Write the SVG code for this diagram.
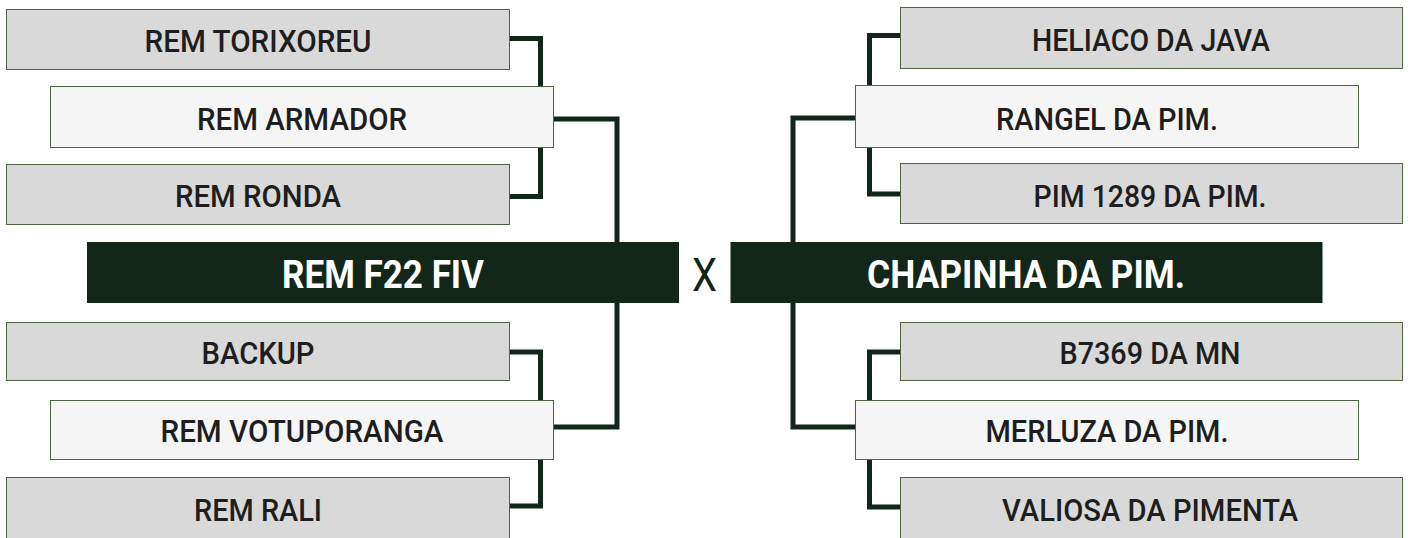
<svg xmlns="http://www.w3.org/2000/svg" width="1408" height="538" viewBox="0 0 1408 538">
<style>
.bg{fill:#ffffff}
.g{fill:#d9d9d9;stroke:#4e6544;stroke-width:1}
.l{fill:#f5f5f5;stroke:#4e6544;stroke-width:1}
.m{fill:#12261a}
.t{font-family:Roboto,"Liberation Sans",sans-serif;font-weight:500;font-size:32px;fill:#1e1e1e;text-anchor:middle}
.mt{font-family:Roboto,"Liberation Sans",sans-serif;font-weight:700;font-size:38px;fill:#ffffff;text-anchor:middle}
.x{font-family:Roboto,"Liberation Sans",sans-serif;font-weight:400;font-size:46px;fill:#12261a;text-anchor:middle}
.c{fill:none;stroke:#12261a;stroke-width:5;stroke-linejoin:miter}
</style>
<rect class="bg" x="0" y="0" width="1408" height="538"/>
<g id="connectors">
<path class="c" d="M509,38.5 H540.5 V196.5 H509"/>
<path class="c" d="M553,119 H617 V245"/>
<path class="c" d="M617,300 V427 H553"/>
<path class="c" d="M509,352 H540.5 V506 H509"/>
<path class="c" d="M901,35.5 H869.5 V194 H901"/>
<path class="c" d="M856,118 H793 V245"/>
<path class="c" d="M793,300 V427 H856"/>
<path class="c" d="M901,352 H869.5 V507 H901"/>
</g>
<g id="n-torixoreu"><rect class="g" x="6.5" y="9.5" width="503" height="60"/><text class="t" x="258" y="52" textLength="227" lengthAdjust="spacingAndGlyphs">REM TORIXOREU</text></g>
<g id="n-armador"><rect class="l" x="50.5" y="86.5" width="503" height="61"/><text class="t" x="302" y="130" textLength="210" lengthAdjust="spacingAndGlyphs">REM ARMADOR</text></g>
<g id="n-ronda"><rect class="g" x="6.5" y="164.5" width="503" height="60"/><text class="t" x="258" y="207" textLength="166" lengthAdjust="spacingAndGlyphs">REM RONDA</text></g>
<g id="n-f22"><rect class="m" x="87" y="242" width="592" height="61"/><text class="mt" x="383" y="288" textLength="202" lengthAdjust="spacingAndGlyphs">REM F22 FIV</text></g>
<g id="n-backup"><rect class="g" x="6.5" y="322.5" width="503" height="58"/><text class="t" x="258" y="364" textLength="113" lengthAdjust="spacingAndGlyphs">BACKUP</text></g>
<g id="n-votuporanga"><rect class="l" x="50.5" y="400.5" width="503" height="59"/><text class="t" x="302" y="442" textLength="283" lengthAdjust="spacingAndGlyphs">REM VOTUPORANGA</text></g>
<g id="n-rali"><rect class="g" x="6.5" y="477.5" width="503" height="70"/><text class="t" x="258" y="521" textLength="128" lengthAdjust="spacingAndGlyphs">REM RALI</text></g>
<g id="versus"><text class="x" x="704.5" y="291" textLength="25" lengthAdjust="spacingAndGlyphs">X</text></g>
<g id="n-heliaco"><rect class="g" x="900.5" y="7.5" width="502" height="61"/><text class="t" x="1151" y="51" textLength="238" lengthAdjust="spacingAndGlyphs">HELIACO DA JAVA</text></g>
<g id="n-rangel"><rect class="l" x="855.5" y="85.5" width="503" height="62"/><text class="t" x="1107" y="130" textLength="222" lengthAdjust="spacingAndGlyphs">RANGEL DA PIM.</text></g>
<g id="n-pim1289"><rect class="g" x="900.5" y="163.5" width="502" height="60"/><text class="t" x="1150" y="207" textLength="233" lengthAdjust="spacingAndGlyphs">PIM 1289 DA PIM.</text></g>
<g id="n-chapinha"><rect class="m" x="730.5" y="242" width="592" height="61"/><text class="mt" x="1026" y="288" textLength="318" lengthAdjust="spacingAndGlyphs">CHAPINHA DA PIM.</text></g>
<g id="n-b7369"><rect class="g" x="900.5" y="322.5" width="502" height="58"/><text class="t" x="1150" y="364" textLength="181" lengthAdjust="spacingAndGlyphs">B7369 DA MN</text></g>
<g id="n-merluza"><rect class="l" x="855.5" y="400.5" width="503" height="59"/><text class="t" x="1107" y="442" textLength="243" lengthAdjust="spacingAndGlyphs">MERLUZA DA PIM.</text></g>
<g id="n-valiosa"><rect class="g" x="900.5" y="477.5" width="502" height="70"/><text class="t" x="1150" y="521" textLength="296" lengthAdjust="spacingAndGlyphs">VALIOSA DA PIMENTA</text></g>
</svg>
